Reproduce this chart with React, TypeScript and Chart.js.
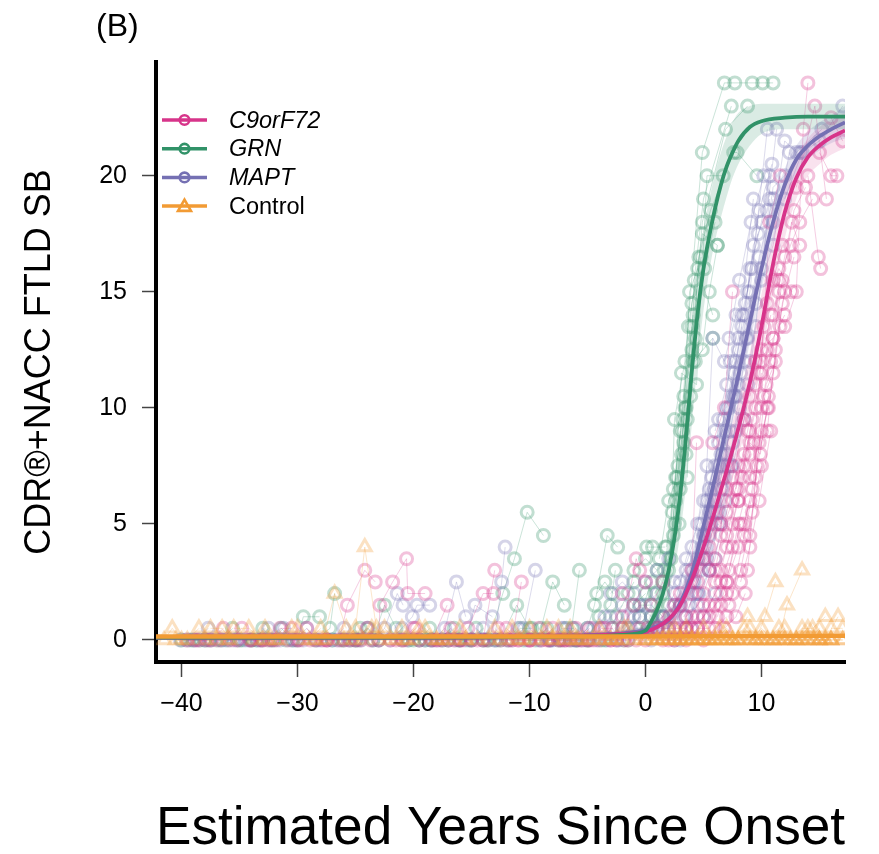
import React, { useEffect, useRef } from "react";
import { Chart, registerables } from "chart.js";

Chart.register(...registerables);

const X_TICKS = [-40, -30, -20, -10, 0, 10];
const Y_TICKS = [0, 5, 10, 15, 20];
const LEGEND_LABELS = ["C9orF72", "GRN", "MAPT", "Control"];

// Each subject: flat list x1, y1, x2, y2, ... (visits connected by a thin line)
const C9_SUBJECTS: number[][] = [
  [-39.5, 0, -38.8, 0, -37.8, 0],
  [-38.5, 0, -37.4, 0, -36.4, 0.5],
  [-36.8, 0, -35.8, 0, -34.8, 0.5],
  [-35.2, 0, -34.1, 0, -33.0, 0],
  [-34.0, 0, -33.2, 0, -32.2, 0],
  [-32.6, 0, -31.5, 0.5, -30.5, 0.5],
  [-31.8, 0, -30.8, 0, -29.8, 0],
  [-30.0, 0, -28.9, 0, -27.8, 0],
  [-29.2, 0.5, -28.4, 0, -27.4, 0],
  [-27.5, 0, -26.4, 0, -25.7, 1.5, -24.2, 3.0, -23.3, 2.5],
  [-26.0, 0, -25.0, 0, -24.0, 0.5],
  [-25.5, 0, -24.6, 0, -23.7, 0],
  [-23.0, 0, -22.9, 1.5, -21.8, 2.5, -20.6, 3.5, -20.5, 2.0, -19.0, 2.0],
  [-22.0, 0, -21.0, 0, -20.0, 0.5],
  [-21.5, 0, -20.8, 0, -19.8, 0.5],
  [-19.5, 0, -18.4, 0, -17.1, 1.5],
  [-18.0, 0, -17.0, 0, -16.0, 0],
  [-17.7, 0, -16.8, 0.5, -15.8, 0],
  [-16.5, 0, -15.3, 0.5, -14.0, 2.0, -13.1, 2.0],
  [-15.0, 0, -14.0, 0, -13.0, 3.0],
  [-14.5, 0, -13.6, 0, -12.7, 0.5],
  [-12.5, 0, -11.5, 0, -10.7, 2.5],
  [-12.0, 0.5, -11.0, 0, -10.0, 0],
  [-11.8, 0, -10.9, 0, -9.9, 0],
  [-10.0, 0, -9.0, 0, -8.0, 0.5],
  [-9.2, 0.5, -8.3, 0, -7.3, 0],
  [-8.5, 0, -7.5, 0, -6.5, 0],
  [-7.0, 0, -6.0, 0.5, -5.0, 0],
  [-6.8, 0, -5.8, 0, -4.8, 0.5],
  [-5.5, 0, -4.5, 0, -3.5, 0.5],
  [-4.8, 0, -3.8, 0.5, -2.8, 0.5],
  [-4.0, 0, -3.0, 0, -2.0, 1.0],
  [-3.0, 0, -2.0, 0.5, -0.8, 3.5, -0.5, 3.0],
  [-2.5, 0, -1.5, 0, -0.5, 0.5],
  [-2.0, 2.0, -1.0, 1.5, 0.0, 2.5],
  [-1.8, 0, -0.8, 0, 0.2, 0.5],
  [0.0, 0, 1.0, 0.5, 2.0, 0.5],
  [0.5, 1.5, 1.5, 2.5, 2.5, 1.5],
  [1.0, 0.5, 2.0, 1.0, 3.0, 2.0],
  [1.5, 0, 2.5, 0, 3.5, 0.5],
  [2.0, 0, 3.0, 1.5, 4.0, 3.0, 4.4, 8.5],
  [2.5, 0.5, 3.5, 0.5, 4.5, 1.0],
  [3.0, 0.5, 4.0, 1.0, 5.0, 2.0, 6.0, 3.5],
  [3.5, 0, 4.5, 0.5, 5.5, 0.5, 6.5, 1.5],
  [3.5, 1.0, 4.5, 2.5, 5.5, 4.0],
  [4.0, 0.5, 5.0, 1.0, 6.0, 1.5, 7.0, 2.0],
  [4.0, 2.0, 5.0, 3.5, 6.0, 5.0, 7.0, 6.5],
  [4.5, 0.5, 5.5, 1.5, 6.5, 2.5, 7.5, 4.0],
  [5.0, 1.5, 6.0, 3.0, 7.0, 5.5, 8.0, 7.5],
  [5.0, 0, 6.0, 0.5, 7.0, 1.0],
  [5.5, 1.0, 6.5, 2.0, 7.2, 3.0, 8.2, 5.0],
  [5.5, 3.0, 6.5, 4.5, 7.5, 6.0, 8.5, 8.0],
  [5.8, 8.5, 6.8, 10.0, 7.5, 15.0],
  [6.0, 2.5, 7.0, 4.0, 8.0, 6.0, 9.0, 8.0],
  [6.2, 1.0, 7.0, 2.5, 8.0, 4.0, 9.0, 6.0],
  [6.5, 3.0, 7.5, 5.0, 8.3, 7.0, 9.2, 9.5],
  [6.5, 5.0, 7.5, 7.0, 8.5, 9.5, 9.5, 12.0],
  [6.8, 0.5, 7.8, 1.0, 8.6, 2.0],
  [7.0, 4.5, 8.0, 6.5, 9.0, 9.0, 10.0, 11.5],
  [7.0, 2.5, 8.0, 5.0, 9.0, 7.0, 10.0, 9.0],
  [7.2, 1.5, 8.2, 3.0, 9.2, 5.5, 10.0, 7.5],
  [7.5, 2.0, 8.5, 4.5, 9.5, 7.0, 10.5, 10.0],
  [7.8, 6.5, 8.8, 9.0, 9.8, 11.5, 10.8, 14.0],
  [8.0, 6.0, 9.0, 8.5, 9.9, 8.0, 10.6, 10.5],
  [8.2, 2.5, 9.0, 4.0, 9.8, 6.0, 10.8, 9.0],
  [8.5, 5.0, 9.2, 6.5, 10.0, 10.0, 11.0, 13.0],
  [8.5, 7.5, 9.5, 10.0, 10.5, 12.5, 11.5, 15.0],
  [8.8, 3.0, 9.6, 7.5, 10.4, 11.0, 11.2, 12.0],
  [9.0, 10.5, 10.0, 12.5, 11.0, 13.0, 12.0, 14.0],
  [9.0, 4.5, 9.8, 8.5, 10.6, 10.0, 11.6, 13.5],
  [9.4, 8.5, 10.2, 13.5, 11.0, 15.5, 11.8, 17.0],
  [9.5, 11.0, 10.5, 14.5, 11.5, 16.0, 12.6, 15.0],
  [10.0, 12.0, 10.7, 18.0, 11.6, 20.0],
  [10.2, 10.5, 11.0, 11.5, 11.8, 14.5, 12.8, 16.5],
  [10.5, 9.0, 11.2, 12.5, 12.0, 15.0],
  [10.8, 12.0, 11.8, 15.5, 12.8, 18.5, 13.8, 19.5],
  [11.0, 14.0, 12.0, 16.5, 12.6, 18.0, 13.3, 17.0],
  [11.5, 15.5, 12.5, 17.0, 13.3, 18.0, 14.4, 19.0],
  [12.0, 13.5, 13.0, 15.0, 13.6, 22.0, 14.0, 24.0],
  [13.0, 19.5, 14.6, 23.0, 15.6, 19.0],
  [14.0, 20.0, 14.9, 16.5, 15.1, 16.0],
  [15.0, 21.0, 16.0, 20.0, 16.5, 20.0],
  [16.0, 22.5, 17.0, 21.5],
];

const GRN_SUBJECTS: number[][] = [
  [-40.0, 0, -39.3, 0, -38.4, 0],
  [-39.0, 0, -38.0, 0, -37.0, 0],
  [-37.6, 0, -36.6, 0, -35.6, 0.5],
  [-36.0, 0, -35.0, 0, -34.0, 0],
  [-34.8, 0, -33.9, 0, -33.0, 0],
  [-33.5, 0, -33.0, 0.5, -32.0, 0],
  [-32.4, 0, -31.4, 0.5, -30.4, 0],
  [-31.0, 0, -30.0, 0, -29.5, 1.0, -28.1, 1.0],
  [-28.5, 0, -27.2, 0.5, -26.8, 2.0],
  [-27.0, 0, -26.2, 0, -25.4, 0],
  [-26.0, 0, -25.0, 0, -24.6, 0.5],
  [-24.8, 0, -23.9, 0.5, -23.0, 0],
  [-23.5, 0, -22.5, 1.5, -21.5, 0.5],
  [-21.0, 0, -20.0, 0, -19.0, 0],
  [-20.4, 0, -19.5, 0, -18.6, 0.5],
  [-18.5, 0, -17.5, 0, -16.5, 0.5],
  [-17.0, 0, -16.1, 0, -15.2, 0],
  [-16.0, 0, -15.0, 0, -14.0, 0],
  [-14.6, 0.5, -13.7, 0, -12.8, 0],
  [-13.5, 0, -12.3, 2.0, -11.3, 3.5, -10.2, 5.5, -8.8, 4.5],
  [-12.5, 0, -11.1, 1.5, -10.0, 0.5],
  [-11.8, 0, -10.8, 0.5, -9.8, 0.5],
  [-10.5, 0, -9.5, 0, -8.5, 0.5],
  [-9.0, 0.5, -8.0, 2.5, -7.0, 1.5],
  [-8.3, 0, -7.3, 0, -6.3, 0.5],
  [-7.5, 0, -6.5, 0, -5.7, 3.0],
  [-6.8, 0.5, -5.9, 0, -4.9, 0],
  [-6.0, 0, -5.0, 0.5, -4.4, 1.5, -3.3, 4.5, -2.4, 4.0],
  [-5.0, 0, -4.0, 1.0, -3.0, 1.5, -2.6, 3.0],
  [-4.2, 2.0, -3.5, 2.5, -2.8, 2.0],
  [-3.8, 0, -2.9, 0.5, -1.9, 0],
  [-3.5, 0, -2.5, 1.0, -1.5, 2.0, -1.0, 2.5],
  [-2.0, 0.5, -1.0, 1.5, 0.0, 2.0],
  [-1.5, 0, -0.5, 1.0, 0.5, 2.5],
  [-1.0, 3.0, 0.0, 3.5, 1.0, 3.0],
  [-0.8, 0.5, 0.2, 0.5, 1.2, 1.0],
  [-0.5, 1.5, 0.5, 1.5, 1.5, 1.0],
  [0.1, 4.0, 0.6, 4.0, 1.7, 4.0],
  [0.5, 1.0, 1.5, 2.0, 2.5, 5.0, 3.1, 8.0],
  [0.8, 2.0, 1.6, 3.0, 2.3, 5.5, 3.0, 9.0],
  [1.0, 0.5, 2.0, 3.0, 2.8, 7.5, 3.5, 10.0],
  [1.2, 3.5, 2.0, 6.0, 2.7, 7.0, 3.6, 9.5],
  [1.5, 2.5, 2.4, 4.5, 3.2, 9.0, 4.1, 14.0],
  [1.8, 4.0, 2.6, 7.0, 3.3, 10.5, 4.0, 13.5],
  [2.0, 1.5, 2.5, 9.5, 3.4, 12.0, 4.9, 21.0, 6.8, 24.0, 7.7, 24.0, 9.2, 24.0, 10.1, 24.0, 11.0, 24.0],
  [2.2, 3.5, 3.1, 11.5, 4.4, 11.0, 5.3, 20.0, 6.7, 20.0],
  [2.4, 6.5, 3.2, 9.5, 4.0, 14.5, 4.8, 16.5],
  [2.6, 6.0, 3.7, 13.5, 4.9, 17.5, 6.2, 17.0],
  [2.9, 5.0, 3.5, 8.0, 4.1, 12.0, 5.8, 13.0],
  [3.0, 6.5, 3.8, 15.0, 4.5, 16.0, 5.8, 14.0],
  [3.3, 8.5, 4.0, 12.5, 4.9, 18.0, 6.9, 22.0, 8.8, 23.0],
  [3.4, 10.0, 4.3, 13.0, 5.1, 16.0, 6.0, 18.0],
  [3.6, 7.0, 4.2, 15.5, 5.0, 19.0, 7.4, 23.0],
  [3.9, 10.5, 4.6, 16.5, 5.6, 18.5, 7.6, 21.0, 7.9, 21.0, 9.6, 20.0],
  [4.3, 12.0, 4.9, 12.5, 5.5, 15.0, 6.2, 17.0],
];

const MAPT_SUBJECTS: number[][] = [
  [-40.1, 0, -39.0, 0, -38.0, 0],
  [-39.6, 0, -38.7, 0, -37.7, 0.5],
  [-37.5, 0, -36.5, 0, -35.5, 0],
  [-36.2, 0, -35.2, 0, -34.2, 0],
  [-34.5, 0, -33.5, 0, -32.5, 0.5],
  [-33.2, 0, -32.2, 0, -31.2, 0.5],
  [-31.5, 0, -30.5, 0, -29.5, 0],
  [-30.2, 0, -29.2, 0.5, -28.3, 0],
  [-28.0, 0, -27.0, 0, -26.0, 0.5],
  [-27.5, 0, -26.6, 0, -25.6, 0],
  [-25.0, 0, -24.0, 0.5, -23.0, 0],
  [-24.5, 0, -23.5, 0, -22.5, 0.5, -21.4, 2.0, -20.9, 1.5],
  [-22.0, 0, -21.0, 0.5, -20.1, 1.0, -19.7, 1.5, -18.6, 1.5],
  [-20.5, 0, -19.5, 0, -18.5, 0],
  [-19.0, 0, -18.0, 0, -17.0, 0],
  [-18.3, 0, -17.3, 0.5, -16.4, 0],
  [-17.5, 0, -16.3, 2.5, -15.5, 1.0],
  [-16.0, 0, -15.0, 0, -14.0, 0.5],
  [-15.5, 0, -14.7, 1.5, -13.2, 1.0],
  [-14.0, 0, -13.0, 0, -12.4, 2.5, -12.1, 4.0],
  [-13.0, 0, -12.0, 0, -11.0, 0.5],
  [-11.5, 0, -10.5, 0.5, -9.5, 3.0],
  [-10.2, 0, -9.2, 0, -8.2, 0],
  [-9.0, 0, -8.0, 0, -7.0, 0.5],
  [-8.2, 0, -7.2, 0.5, -6.2, 0.5],
  [-7.0, 0, -6.0, 0, -5.0, 0.5],
  [-6.2, 0, -5.2, 0, -4.2, 0],
  [-5.5, 0, -4.5, 0.5, -3.5, 1.0],
  [-4.0, 0.5, -3.0, 1.0, -2.0, 1.5],
  [-3.3, 0, -2.3, 0, -1.3, 0.5],
  [-3.0, 2.0, -2.0, 2.5, -1.0, 2.0],
  [-2.5, 0, -1.5, 0.5, -0.5, 1.0],
  [-1.5, 1.0, -0.5, 1.5, 0.5, 1.0],
  [-1.0, 1.0, 0.0, 1.5, 1.0, 2.0],
  [0.0, 2.5, 1.0, 3.0, 2.0, 3.5],
  [0.5, 0, 1.5, 0.5, 2.5, 0.5],
  [0.5, 0.5, 1.5, 1.0, 2.5, 2.0],
  [1.5, 1.0, 2.5, 2.5, 3.5, 3.0],
  [2.0, 0.5, 3.0, 1.5, 4.0, 2.5, 5.0, 3.5],
  [2.5, 0, 3.5, 1.0, 4.5, 1.5, 5.5, 3.0],
  [2.5, 1.5, 3.5, 3.5, 4.5, 5.0, 5.3, 7.5],
  [3.0, 2.5, 4.0, 4.0, 5.0, 6.0, 6.0, 7.5],
  [3.0, 0, 4.0, 0.5, 5.0, 1.0, 6.0, 2.0],
  [3.3, 1.0, 4.3, 2.0, 5.3, 3.5, 6.3, 5.0],
  [3.5, 0.5, 4.5, 2.0, 5.5, 4.5, 6.3, 9.5],
  [3.8, 1.5, 4.8, 3.0, 5.6, 5.0, 6.6, 6.5],
  [4.0, 3.0, 4.9, 4.0, 5.9, 6.5, 6.9, 9.0],
  [4.2, 2.5, 5.1, 4.5, 6.0, 6.0, 7.0, 8.0],
  [4.5, 3.5, 5.5, 5.5, 6.5, 8.0, 7.5, 10.5],
  [4.6, 2.0, 5.5, 3.0, 6.4, 5.5, 7.4, 7.5],
  [4.8, 5.0, 5.7, 7.0, 6.7, 9.5, 7.7, 12.0],
  [5.0, 4.5, 5.8, 13.0, 6.8, 12.0, 7.8, 14.0],
  [5.2, 4.0, 6.1, 5.5, 7.1, 7.5, 8.1, 10.0],
  [5.3, 6.0, 6.3, 8.5, 7.2, 10.0, 8.3, 13.5],
  [5.5, 6.5, 6.5, 7.0, 7.3, 9.0, 8.2, 11.5],
  [5.8, 5.5, 6.7, 8.0, 7.7, 10.5, 8.7, 13.0],
  [6.0, 9.0, 7.0, 11.0, 8.0, 13.0, 9.3, 19.0],
  [6.0, 3.5, 6.9, 6.0, 7.8, 9.0, 8.8, 11.0],
  [6.3, 7.5, 7.3, 12.0, 8.3, 14.0, 9.2, 16.0],
  [6.5, 5.0, 7.5, 8.5, 8.5, 12.0, 9.5, 14.5],
  [6.8, 7.0, 7.6, 11.5, 8.6, 14.5, 9.7, 17.5],
  [7.0, 10.0, 8.0, 12.5, 9.0, 15.0, 10.5, 22.0],
  [7.2, 13.0, 8.1, 15.5, 9.1, 18.0, 10.2, 20.0],
  [7.5, 7.5, 8.5, 9.5, 9.5, 13.5, 10.7, 19.0],
  [7.8, 10.5, 8.8, 13.0, 9.8, 16.5, 11.0, 19.0],
  [8.0, 11.0, 9.0, 16.0, 10.0, 18.0, 10.7, 20.0],
  [8.5, 14.0, 9.3, 17.0, 10.5, 18.5, 11.3, 22.0],
  [8.8, 15.0, 9.8, 18.5, 10.9, 20.5],
  [9.0, 12.0, 10.0, 15.5, 11.0, 17.0, 12.4, 21.0],
  [10.0, 16.0, 11.0, 19.5, 12.0, 20.0, 13.3, 21.0],
  [11.0, 18.0, 12.0, 21.5, 13.0, 21.0, 15.2, 22.0],
  [12.0, 19.0, 13.5, 21.0, 15.0, 21.5, 17.0, 23.0],
];

const CONTROL_SUBJECTS: number[][] = [
  [-41.5, 0, -40.8, 0.5, -40.0, 0],
  [-40.5, 0, -39.5, 0, -38.5, 0.5],
  [-38.0, 0, -37.0, 0, -36.0, 0],
  [-37.5, 0.5, -36.5, 0.5, -35.8, 0],
  [-35.5, 0.5, -34.2, 0.5, -33.0, 0],
  [-33.8, 0, -32.8, 0.5, -31.8, 0],
  [-32.5, 0, -31.5, 0, -30.5, 0.5],
  [-30.0, 0.5, -29.0, 0, -28.0, 0.5],
  [-29.5, 0, -28.5, 0, -27.5, 0],
  [-27.8, 0, -26.8, 2.0, -25.8, 0.5],
  [-26.0, 0, -25.0, 0.5, -24.2, 4.0, -23.2, 0.5],
  [-25.2, 0, -24.4, 0, -23.6, 0.5],
  [-23.0, 0, -22.0, 0, -21.0, 0.5],
  [-22.5, 0.5, -21.5, 0, -20.7, 0],
  [-20.5, 0, -19.5, 0.5, -18.5, 0],
  [-20.0, 0, -19.0, 0.5, -18.0, 0],
  [-18.0, 0, -17.0, 0, -16.0, 0.5],
  [-17.5, 0, -16.5, 0, -15.5, 0],
  [-15.5, 0, -14.5, 0, -13.5, 0],
  [-13.0, 0.5, -12.0, 0, -11.0, 0],
  [-12.5, 0, -11.5, 0.5, -10.8, 0],
  [-10.5, 0, -9.5, 0, -8.5, 0.5],
  [-10.0, 0.5, -9.0, 0, -8.0, 0],
  [-8.0, 0, -7.0, 0, -6.0, 0],
  [-7.5, 0.5, -6.5, 0, -5.8, 0],
  [-6.5, 0.5, -5.5, 0, -4.5, 0],
  [-5.0, 0, -4.0, 0.5, -3.0, 0],
  [-4.0, 0, -3.0, 0, -2.0, 0],
  [-3.5, 0, -2.5, 0, -1.8, 0.5],
  [-2.5, 0, -1.5, 0.5, -0.5, 0],
  [-1.0, 0, 0.0, 0, 1.0, 0],
  [0.0, 0, 1.0, 0, 2.0, 0, 3.0, 0],
  [0.5, 0, 1.5, 0, 2.5, 0.5],
  [1.0, 0, 2.0, 0, 3.0, 0, 4.0, 0],
  [1.5, 0, 2.5, 0, 3.5, 0],
  [2.0, 0.5, 3.0, 0, 4.0, 0, 5.0, 0],
  [2.5, 0, 3.5, 0.5, 4.5, 0],
  [3.5, 0, 4.5, 0, 5.5, 0],
  [4.0, 0, 5.0, 0.5, 6.0, 0, 7.0, 0],
  [4.5, 0, 5.5, 0, 6.4, 0.5],
  [5.0, 0, 6.0, 0, 7.0, 0.5, 8.0, 0],
  [5.5, 0, 6.5, 0, 7.5, 0],
  [6.0, 0, 7.0, 0, 8.0, 0, 9.0, 0, 10.0, 0],
  [6.5, 0, 7.5, 0, 8.8, 1.0],
  [7.5, 0, 8.5, 0.5, 9.5, 0],
  [8.0, 0, 9.0, 0, 10.0, 0.5, 11.0, 0],
  [8.5, 0, 9.5, 0, 10.3, 1.0, 11.2, 2.5],
  [9.0, 0.5, 10.0, 0, 11.0, 0, 12.0, 0.5],
  [9.5, 0, 10.5, 0, 11.5, 0.5],
  [10.5, 0, 11.5, 0, 12.2, 1.5, 13.5, 3.0],
  [11.0, 0, 12.0, 0, 13.0, 0, 14.0, 0, 15.0, 0, 16.0, 0, 17.0, 0],
  [11.5, 0, 12.5, 0, 13.5, 0],
  [12.0, 0, 13.0, 0, 14.0, 0, 15.0, 0.5],
  [12.5, 0, 13.5, 0.5, 14.4, 0.5, 15.5, 1.0],
  [13.0, 0, 14.0, 0.5, 15.0, 0, 16.0, 0],
  [13.5, 0, 14.5, 0, 15.5, 0],
  [14.5, 0, 15.5, 0, 16.6, 1.0],
  [15.0, 0, 16.0, 0, 17.0, 0],
  [16.0, 0.5, 17.0, 0.5],
];

// Fitted curves and confidence bands
const GRN_FIT_X = [-42.2, -20, -10, -5, -2, 0, 0.5, 1, 1.5, 2, 2.5, 3, 3.5, 4, 4.5, 5, 5.5, 6, 6.5, 7, 7.5, 8, 9, 10, 12, 14, 17.2];
const GRN_FIT_Y = [0.1, 0.1, 0.12, 0.15, 0.22, 0.4, 0.8, 1.3, 2.0, 3.0, 4.4, 6.3, 8.8, 11.6, 14.1, 16.0, 17.4, 18.6, 19.6, 20.4, 21.0, 21.5, 22.1, 22.35, 22.5, 22.55, 22.55];
const GRN_FIT_HI = [0.18, 0.18, 0.2, 0.25, 0.35, 0.65, 1.2, 1.9, 2.9, 4.2, 6.0, 8.3, 11.1, 13.9, 16.1, 17.7, 19.0, 20.1, 21.0, 21.7, 22.3, 22.7, 23.0, 23.1, 23.1, 23.1, 23.1];
const GRN_FIT_LO = [0.03, 0.03, 0.04, 0.06, 0.1, 0.2, 0.45, 0.85, 1.3, 2.1, 3.1, 4.6, 6.7, 9.3, 12.0, 14.2, 15.9, 17.2, 18.2, 19.1, 19.9, 20.5, 21.3, 21.8, 22.0, 22.0, 22.0];

const MAPT_FIT_X = [-42.2, -20, -10, -5, -2, 0, 1, 2, 3, 4, 5, 6, 7, 8, 9, 10, 11, 12, 13, 14, 15, 16, 17.2];
const MAPT_FIT_Y = [0.1, 0.1, 0.12, 0.2, 0.28, 0.42, 0.6, 0.85, 1.6, 2.9, 4.9, 7.0, 9.2, 11.4, 13.7, 16.0, 18.0, 19.6, 20.7, 21.3, 21.7, 22.0, 22.3];
const MAPT_FIT_HI = [0.2, 0.2, 0.22, 0.3, 0.43, 0.62, 0.9, 1.25, 2.2, 3.7, 5.8, 7.9, 10.1, 12.3, 14.6, 16.9, 18.8, 20.3, 21.3, 21.9, 22.3, 22.6, 23.0];
const MAPT_FIT_LO = [0.02, 0.02, 0.04, 0.1, 0.15, 0.25, 0.35, 0.5, 1.1, 2.2, 4.0, 6.1, 8.3, 10.5, 12.8, 15.1, 17.2, 18.9, 20.1, 20.7, 21.1, 21.4, 21.6];

const C9_FIT_X = [-42.2, -20, -10, -5, -2, 0, 1, 2, 3, 4, 5, 6, 7, 8, 9, 10, 11, 12, 13, 14, 15, 16, 17.2];
const C9_FIT_Y = [0.1, 0.1, 0.12, 0.18, 0.26, 0.35, 0.55, 0.9, 1.5, 2.6, 4.0, 5.6, 7.3, 9.1, 11.1, 13.5, 16.2, 18.4, 19.9, 20.8, 21.3, 21.65, 21.95];
const C9_FIT_HI = [0.2, 0.2, 0.22, 0.28, 0.4, 0.55, 0.85, 1.3, 2.1, 3.4, 5.0, 6.7, 8.5, 10.3, 12.4, 14.9, 17.4, 19.4, 20.8, 21.6, 22.1, 22.4, 22.7];
const C9_FIT_LO = [0.02, 0.02, 0.04, 0.08, 0.12, 0.18, 0.3, 0.55, 1.0, 1.9, 3.1, 4.5, 6.1, 7.9, 9.8, 12.2, 14.9, 17.3, 19.0, 20.0, 20.5, 20.9, 21.2];

const CONTROL_FIT_X = [-42.2, 0, 17.2];
const CONTROL_FIT_Y = [0.15, 0.15, 0.18];

const C9_RGB = "215,52,138";
const GRN_RGB = "49,146,104";
const MAPT_RGB = "117,112,179";
const CTRL_RGB = "242,155,52";

const FONT = '"Liberation Sans", Arial, Helvetica, sans-serif';

function subjectsToPoints(subjects: number[][]) {
  const out: { x: number; y: number | null }[] = [];
  subjects.forEach((s) => {
    for (let k = 0; k < s.length; k += 2) out.push({ x: s[k], y: s[k + 1] });
    out.push({ x: s[s.length - 2], y: null });
  });
  return out;
}

function curve(xs: number[], ys: number[]) {
  return xs.map((x, i) => ({ x, y: ys[i] }));
}

const minusFmt = (v: number) => (v < 0 ? "\u2212" + Math.abs(v) : String(v));

const overlayPlugin = {
  id: "overlay",
  afterDraw(chart: any) {
    const ctx = chart.ctx as CanvasRenderingContext2D;
    ctx.save();
    // panel label
    ctx.fillStyle = "#000";
    ctx.font = `32px ${FONT}`;
    ctx.textAlign = "left";
    ctx.textBaseline = "middle";
    ctx.fillText("(B)", 96, 27);
    // legend
    const cols = [C9_RGB, GRN_RGB, MAPT_RGB, CTRL_RGB];
    LEGEND_LABELS.forEach((name, i) => {
      const y = 120 + i * 28.7;
      const col = `rgb(${cols[i]})`;
      ctx.strokeStyle = col;
      ctx.lineWidth = 3.5;
      ctx.beginPath();
      ctx.moveTo(162, y);
      ctx.lineTo(207, y);
      ctx.stroke();
      ctx.lineWidth = 2.6;
      ctx.beginPath();
      if (i < 3) {
        ctx.arc(184.5, y, 4.8, 0, Math.PI * 2);
      } else {
        ctx.moveTo(184.5, y - 6.5);
        ctx.lineTo(191, y + 4.8);
        ctx.lineTo(178, y + 4.8);
        ctx.closePath();
      }
      ctx.stroke();
      ctx.fillStyle = "#000";
      ctx.font = `${i < 3 ? "italic " : ""}23.5px ${FONT}`;
      ctx.fillText(name, 229, y + 1);
    });
    ctx.restore();
  },
};

export default function App() {
  const ref = useRef<HTMLCanvasElement>(null);

  useEffect(() => {
    const canvas = ref.current;
    if (!canvas) return;

    const pointsDs = (label: string, subjects: number[][], rgb: string, order: number, style: string, radius: number) => ({
      label,
      data: subjectsToPoints(subjects),
      showLine: true,
      spanGaps: false,
      borderColor: `rgba(${rgb},0.25)`,
      borderWidth: 1,
      pointStyle: style,
      pointRadius: radius,
      pointBorderWidth: 3,
      pointBorderColor: `rgba(${rgb},0.3)`,
      pointBackgroundColor: "rgba(0,0,0,0)",
      fill: false,
      order,
    });

    const fitDs = (label: string, xs: number[], ys: number[], rgb: string, order: number, width: number) => ({
      label,
      data: curve(xs, ys),
      showLine: true,
      borderColor: `rgb(${rgb})`,
      borderWidth: width,
      pointRadius: 0,
      cubicInterpolationMode: "monotone",
      fill: false,
      order,
    });

    const bandDs = (label: string, xs: number[], ys: number[], rgb: string, order: number, fillTarget: any, alpha: number) => ({
      label,
      data: curve(xs, ys),
      showLine: true,
      borderWidth: 0,
      borderColor: "rgba(0,0,0,0)",
      pointRadius: 0,
      cubicInterpolationMode: "monotone",
      fill: fillTarget,
      backgroundColor: `rgba(${rgb},${alpha})`,
      order,
    });

    const datasets: any[] = [
      fitDs("GRN fit", GRN_FIT_X, GRN_FIT_Y, GRN_RGB, 1, 3.8), // 0
      fitDs("C9orF72 fit", C9_FIT_X, C9_FIT_Y, C9_RGB, 2, 3.8), // 1
      fitDs("MAPT fit", MAPT_FIT_X, MAPT_FIT_Y, MAPT_RGB, 3, 3.8), // 2
      fitDs("Control fit", CONTROL_FIT_X, CONTROL_FIT_Y, CTRL_RGB, 0, 4.5), // 3
      bandDs("GRN upper", GRN_FIT_X, GRN_FIT_HI, GRN_RGB, 4, 5, 0.18), // 4
      bandDs("GRN lower", GRN_FIT_X, GRN_FIT_LO, GRN_RGB, 4, false, 0), // 5
      bandDs("MAPT upper", MAPT_FIT_X, MAPT_FIT_HI, MAPT_RGB, 5, 7, 0.18), // 6
      bandDs("MAPT lower", MAPT_FIT_X, MAPT_FIT_LO, MAPT_RGB, 5, false, 0), // 7
      bandDs("C9orF72 upper", C9_FIT_X, C9_FIT_HI, C9_RGB, 6, 9, 0.14), // 8
      bandDs("C9orF72 lower", C9_FIT_X, C9_FIT_LO, C9_RGB, 6, false, 0), // 9
      pointsDs("Control", CONTROL_SUBJECTS, CTRL_RGB, 7, "triangle", 7.5), // 10
      pointsDs("C9orF72", C9_SUBJECTS, C9_RGB, 8, "circle", 6), // 11
      pointsDs("MAPT", MAPT_SUBJECTS, MAPT_RGB, 9, "circle", 6), // 12
      pointsDs("GRN", GRN_SUBJECTS, GRN_RGB, 10, "circle", 6), // 13
    ];

    const chart = new Chart(canvas, {
      type: "scatter",
      data: { datasets },
      options: {
        responsive: false,
        animation: false,
        devicePixelRatio: 1,
        events: [],
        layout: { padding: { left: 0, top: 62, right: 34, bottom: 0 } },
        plugins: {
          legend: { display: false },
          tooltip: { enabled: false },
          title: { display: false },
        },
        scales: {
          x: {
            type: "linear",
            min: -42.2,
            max: 17.2,
            afterBuildTicks: (scale: any) => {
              scale.ticks = X_TICKS.map((v) => ({ value: v }));
            },
            afterFit: (scale: any) => {
              scale.height = 192;
            },
            grid: {
              display: true,
              drawOnChartArea: false,
              drawTicks: true,
              tickLength: 15,
              tickWidth: 1.5,
              tickColor: "#444",
            },
            border: { display: true, width: 4, color: "#000" },
            ticks: {
              color: "#000",
              padding: 12,
              maxRotation: 0,
              autoSkip: false,
              font: { family: FONT, size: 25 },
              callback: (v: any) => minusFmt(Number(v)),
            },
            title: {
              display: true,
              text: "Estimated Years Since Onset",
              color: "#000",
              font: { family: FONT, size: 54, lineHeight: 0.92 },
              padding: { top: 0, bottom: 0 },
            },
          },
          y: {
            type: "linear",
            min: -0.95,
            max: 24.9,
            afterBuildTicks: (scale: any) => {
              scale.ticks = Y_TICKS.map((v) => ({ value: v }));
            },
            afterFit: (scale: any) => {
              scale.width = 156;
            },
            grid: {
              display: true,
              drawOnChartArea: false,
              drawTicks: true,
              tickLength: 14,
              tickWidth: 1.5,
              tickColor: "#444",
            },
            border: { display: true, width: 4, color: "#000" },
            ticks: {
              color: "#000",
              padding: 15,
              autoSkip: false,
              font: { family: FONT, size: 25 },
              callback: (v: any) => minusFmt(Number(v)),
            },
            title: {
              display: true,
              text: "CDR\u00AE+NACC FTLD SB",
              color: "#000",
              font: { family: FONT, size: 36, lineHeight: 1 },
              padding: { top: 22, bottom: 0 },
            },
          },
        },
      } as any,
      plugins: [overlayPlugin],
    });

    return () => chart.destroy();
  }, []);

  return (
    <div style={{ position: "absolute", left: 0, top: 0, width: 879, height: 854, background: "#fff" }}>
      <canvas ref={ref} width={879} height={854} style={{ display: "block", width: 879, height: 854 }} />
    </div>
  );
}
